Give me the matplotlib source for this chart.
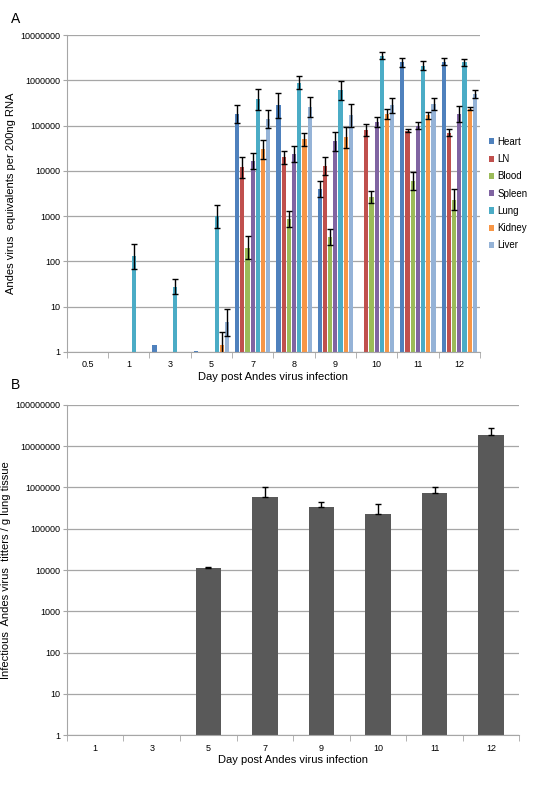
import numpy as np
import matplotlib
matplotlib.use("Agg")
import matplotlib.pyplot as plt

plt.rcParams['font.family'] = ['Liberation Sans', 'DejaVu Sans']

nan = np.nan
daysA = ["0.5", "1", "3", "5", "7", "8", "9", "10", "11", "12"]
tissues = ["Heart", "LN", "Blood", "Spleen", "Lung", "Kidney", "Liver"]
heart  = [nan, nan, 1.4, 1.05, 1.8e5, 2.8e5, 4.0e3, nan, 2.5e6, 2.6e6]
ln     = [nan, nan, nan, nan, 1.2e4, 2.0e4, 1.3e4, 8.0e4, 7.8e4, 7.0e4]
blood  = [nan, nan, nan, nan, 200, 850, 350, 2.7e3, 6.0e3, 2.3e3]
spleen = [nan, nan, nan, nan, 1.7e4, 2.4e4, 4.5e4, 1.2e5, 1.0e5, 1.8e5]
lung   = [nan, 130, 28, 1000, 3.8e5, 9.0e5, 6.0e5, 3.5e6, 2.1e6, 2.5e6]
kidney = [nan, nan, nan, 1.4, 3.0e4, 5.0e4, 5.5e4, 1.8e5, 1.7e5, 2.4e5]
liver  = [nan, nan, nan, 4.5, 1.4e5, 2.6e5, 1.7e5, 2.8e5, 3.0e5, 5.0e5]
# fold error (multiplicative)
heart_e  = [1, 1, 1, 1, 1.6, 1.9, 1.5, 1, 1.25, 1.2]
ln_e     = [1, 1, 1, 1, 1.7, 1.4, 1.6, 1.35, 1.1, 1.2]
blood_e  = [1, 1, 1, 1, 1.8, 1.5, 1.5, 1.35, 1.6, 1.7]
spleen_e = [1, 1, 1, 1, 1.5, 1.5, 1.6, 1.3, 1.2, 1.5]
lung_e   = [1, 1.9, 1.5, 1.8, 1.7, 1.4, 1.6, 1.2, 1.25, 1.2]
kidney_e = [1, 1, 1, 2.0, 1.6, 1.4, 1.7, 1.3, 1.2, 1.1]
liver_e  = [1, 1, 1, 2.0, 1.6, 1.7, 1.8, 1.5, 1.35, 1.25]
colors = ["#4F81BD", "#C0504D", "#9BBB59", "#8064A2", "#4BACC6", "#F79646", "#95B3D7"]

daysB = ["1", "3", "5", "7", "9", "10", "11", "12"]
titerB = [nan, nan, 1.1e4, 6.0e5, 3.3e5, 2.3e5, 7.5e5, 1.9e7]
titerB_up = [nan, nan, 1.15e4, 1.05e6, 4.5e5, 3.9e5, 1.05e6, 2.7e7]

fig = plt.figure(figsize=(5.35, 8), dpi=100)
grid = "#A6A6A6"

def style(ax, n, labels, ymax):
    ax.set_yscale("log")
    ax.set_ylim(1, ymax)
    ax.set_xlim(-0.5, n - 0.5)
    ax.set_xticks(range(n))
    ax.set_xticklabels(labels, fontsize=6.5)
    ax.set_xticks(np.arange(-0.5, n, 1), minor=True)
    ax.tick_params(axis="x", which="major", length=0, pad=6)
    ax.tick_params(axis="x", which="minor", length=4, color=grid)
    ax.yaxis.set_major_locator(matplotlib.ticker.LogLocator(base=10, numticks=20))
    ax.yaxis.set_minor_locator(matplotlib.ticker.NullLocator())
    ax.yaxis.set_major_formatter(matplotlib.ticker.FuncFormatter(lambda v, p: f"{int(round(v))}"))
    ax.tick_params(axis="y", labelsize=6.5, length=3, color=grid, pad=2)
    ax.grid(axis="y", color=grid, lw=0.9)
    ax.set_axisbelow(True)
    for s in ["top", "right"]:
        ax.spines[s].set_visible(False)
    for s in ["left", "bottom"]:
        ax.spines[s].set_color(grid)

axA = fig.add_axes([0.125, 0.56, 0.772, 0.396])
series = [heart, ln, blood, spleen, lung, kidney, liver]
errs = [heart_e, ln_e, blood_e, spleen_e, lung_e, kidney_e, liver_e]
w = 0.126
x = np.arange(len(daysA))
for i, (vals, fe, c, name) in enumerate(zip(series, errs, colors, tissues)):
    v = np.array(vals, float)
    f = np.array(fe, float)
    xi = x + (i - 3) * w
    axA.bar(xi, v - 1, bottom=1, width=w * 0.8, color=c, label=name)
    m = ~np.isnan(v) & (f > 1)
    axA.errorbar(xi[m], v[m], yerr=[v[m] - v[m] / f[m], v[m] * f[m] - v[m]],
                 fmt="none", ecolor="black", elinewidth=1, capsize=2)
style(axA, len(daysA), daysA, 1e7)
axA.set_ylabel("Andes virus  equivalents per 200ng RNA", fontsize=8, labelpad=3)
axA.set_xlabel("Day post Andes virus infection", fontsize=8, labelpad=2)
axA.legend(loc="center left", bbox_to_anchor=(1.0, 0.5), frameon=False, fontsize=7,
           handlelength=0.6, handleheight=0.6, handletextpad=0.3, labelspacing=0.75)
fig.text(0.02, 0.985, "A", fontsize=10, va="top")

axB = fig.add_axes([0.125, 0.081, 0.846, 0.413])
vb = np.array(titerB, float)
ub = np.array(titerB_up, float)
xb = np.arange(len(daysB))
axB.bar(xb, vb - 1, bottom=1, width=0.45, color="#595959")
m = ~np.isnan(vb)
axB.errorbar(xb[m], vb[m], yerr=[np.zeros(m.sum()), ub[m] - vb[m]], fmt="none",
             ecolor="black", elinewidth=1, capsize=2)
style(axB, len(daysB), daysB, 1e8)
axB.set_ylabel("Infectious  Andes virus  titters / g lung tissue", fontsize=8, labelpad=3)
axB.set_xlabel("Day post Andes virus infection", fontsize=8, labelpad=2)
fig.text(0.02, 0.527, "B", fontsize=10, va="top")

fig.savefig("out.png", dpi=100)
